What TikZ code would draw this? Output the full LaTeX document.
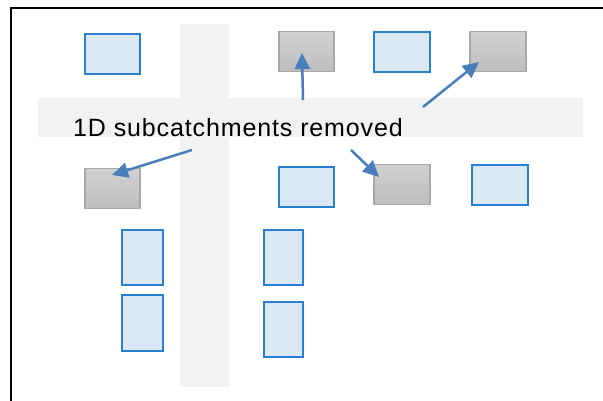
\documentclass[tikz,border=0pt]{standalone}
\usepackage{fontspec}
\setmainfont{Liberation Sans}
\usetikzlibrary{arrows.meta}
\definecolor{roadc}{HTML}{F2F2F2}
\definecolor{bluefill}{HTML}{DDE8F5}
\definecolor{blueline}{HTML}{2A7FD0}
\definecolor{graytop}{HTML}{D0D0D0}
\definecolor{graybot}{HTML}{BEBEBE}
\definecolor{grayline}{HTML}{A8A8A8}
\definecolor{arrowc}{HTML}{4A7EBB}
\tikzset{
  road/.style={fill=roadc, draw=none},
  bluebox/.style={draw=blueline, line width=2.4pt, fill=bluefill, inner sep=0pt, anchor=north west},
  graybox/.style={draw=grayline, line width=1.5pt, top color=graytop, bottom color=graybot, inner sep=0pt, anchor=north west},
  pointer/.style={draw=arrowc, line width=2.5pt, -{Triangle[length=16pt,width=15pt]}},
  frameline/.style={draw=black, line width=1.8pt},
  label/.style={font=\fontsize{25}{30}\selectfont\addfontfeatures{LetterSpace=3.5}, anchor=base west, inner sep=0pt}
}
\begin{document}
\begin{tikzpicture}[x=1pt, y=-1pt]
\useasboundingbox (0,0) rectangle (603,401);
% frame
\draw[frameline] (11,401) -- (11,8) -- (603,8);
% roads
\fill[road] (180,24) rectangle (229,387);
\fill[road] (38,98) rectangle (583,137);
% top row
\node[bluebox, minimum width=55pt, minimum height=40pt] (b1) at (84,33) {};
\node[graybox, minimum width=55pt, minimum height=40pt] (g1) at (278,31) {};
\node[bluebox, minimum width=56pt, minimum height=40pt] (b2) at (373,31) {};
\node[graybox, minimum width=56pt, minimum height=40pt] (g2) at (469,31) {};
% middle row
\node[graybox, minimum width=55pt, minimum height=40pt] (g3) at (84,168) {};
\node[bluebox, minimum width=55pt, minimum height=40pt] (b3) at (278,166) {};
\node[graybox, minimum width=56pt, minimum height=40pt] (g4) at (373,164) {};
\node[bluebox, minimum width=56pt, minimum height=40pt] (b4) at (471,164) {};
% lower columns
\node[bluebox, minimum width=41pt, minimum height=55pt] (b5) at (121,229) {};
\node[bluebox, minimum width=41pt, minimum height=56pt] (b6) at (121,294) {};
\node[bluebox, minimum width=39pt, minimum height=55pt] (b7) at (263,229) {};
\node[bluebox, minimum width=39pt, minimum height=55pt] (b8) at (263,301) {};
% label
\node[label] (lbl) at (73,137) {1D subcatchments removed};
% arrows
\coordinate (s1) at (192,150); \coordinate (t1) at (112,175);
\coordinate (s2) at (303,100); \coordinate (t2) at (302,53);
\coordinate (s3) at (423,107); \coordinate (t3) at (479,62);
\coordinate (s4) at (351,150); \coordinate (t4) at (379,177);
\draw[pointer] (s1) -- (t1);
\draw[pointer] (s2) -- (t2);
\draw[pointer] (s3) -- (t3);
\draw[pointer] (s4) -- (t4);
\end{tikzpicture}
\end{document}
